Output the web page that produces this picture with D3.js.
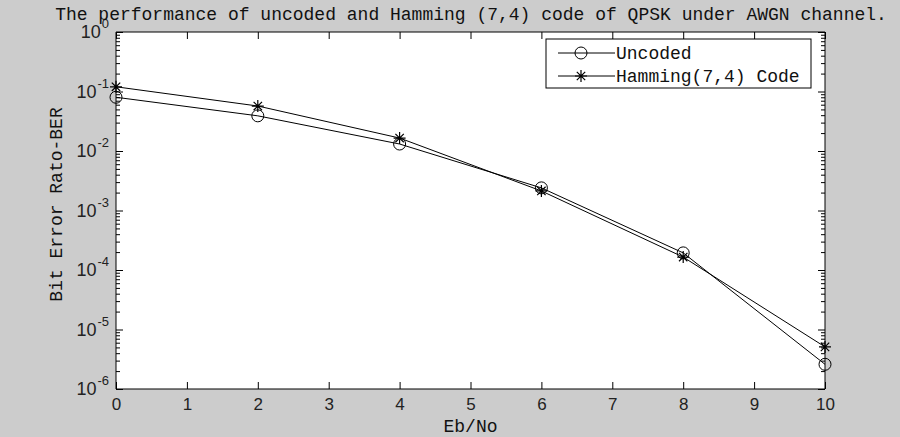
<!DOCTYPE html>
<html>
<head>
<meta charset="utf-8">
<script src="https://cdn.jsdelivr.net/npm/d3@7"></script>
<style>
  body { margin: 0; background: #cccccc; }
  svg { display: block; }
  .axis path, .axis line { stroke: #000; }
  .axis text { font-family: "Liberation Sans", Arial, sans-serif; font-size: 17px; fill: #222; }
  .mono { font-family: "Liberation Mono", "DejaVu Sans Mono", monospace; fill: #111; }
</style>
</head>
<body>
<script>
// data
var ebno = [0, 2, 4, 6, 8, 10];
var uncoded = [0.080, 0.039, 0.0131, 0.0024, 0.000194, 0.0000026];
var hamming = [0.120, 0.057, 0.0165, 0.00213, 0.000165, 0.0000051];
var xTicks = [0, 1, 2, 3, 4, 5, 6, 7, 8, 9, 10];
var yDecades = [0, -1, -2, -3, -4, -5, -6];
var seriesNames = ["Uncoded", "Hamming(7,4) Code"];

var width = 900, height = 437;
var margin = {top: 32, right: 75, bottom: 48, left: 116};
var w = width - margin.left - margin.right, h = height - margin.top - margin.bottom;

var svg = d3.select("body").append("svg")
    .attr("width", width)
    .attr("height", height);

svg.append("rect").attr("width", width).attr("height", height).attr("fill", "#cccccc");

var g = svg.append("g")
    .attr("transform", "translate(" + margin.left + "," + margin.top + ")");

var xScale = d3.scaleLinear().domain([0, 10]).range([0, w]);
var yScale = d3.scaleLog().domain([1e-6, 1]).range([h, 0]);

g.append("rect").attr("width", w).attr("height", h).attr("fill", "#fff");

// minor log ticks
var minor = [];
yDecades.slice(1).forEach(function(e) {
  for (var k = 2; k <= 9; k++) minor.push(k * Math.pow(10, e));
});
var majors = yDecades.map(function(e) { return Math.pow(10, e); });

// x axis bottom + top, ticks pointing in
g.append("g").attr("class", "axis")
    .attr("transform", "translate(0," + h + ")")
    .call(d3.axisBottom(xScale).tickValues(xTicks).tickSize(-7).tickPadding(9).tickFormat(d3.format("d")))
    .call(function(s) { s.select(".domain").attr("d", "M0,0H" + w); });
g.append("g").attr("class", "axis")
    .call(d3.axisTop(xScale).tickValues(xTicks).tickSize(-7).tickFormat(""))
    .call(function(s) { s.select(".domain").attr("d", "M0,0H" + w); });

// y axis left + right
function yAxis(axisFn, x) {
  var a = g.append("g").attr("class", "axis").attr("transform", "translate(" + x + ",0)");
  a.call(axisFn(yScale).tickValues(minor).tickSize(-4).tickFormat(""));
  a.select(".domain").attr("d", "M0,0V" + h);
  var b = g.append("g").attr("class", "axis").attr("transform", "translate(" + x + ",0)");
  b.call(axisFn(yScale).tickValues(majors).tickSize(-7).tickFormat(""));
  b.select(".domain").remove();
}
yAxis(d3.axisLeft, 0);
yAxis(d3.axisRight, w);

// y tick labels 10^n
var ylab = g.append("g").attr("class", "axis");
ylab.selectAll("text").data(yDecades).enter().append("text")
    .attr("x", -7)
    .attr("y", function(d) { return yScale(Math.pow(10, d)) + 6; })
    .attr("text-anchor", "end")
    .each(function(d) {
      var t = d3.select(this);
      t.append("tspan").attr("font-size", "18px").text("10");
      t.append("tspan").attr("dx", 1).attr("dy", -10).attr("font-size", "13px").text(d);
    });

// lines
var line = d3.line()
    .x(function(d, i) { return xScale(ebno[i]); })
    .y(function(d) { return yScale(d); });

[uncoded, hamming].forEach(function(s) {
  g.append("path").datum(s)
      .attr("d", line)
      .attr("fill", "none")
      .attr("stroke", "#000")
      .attr("stroke-width", 1);
});

function circleMark(sel, x, y) {
  sel.append("circle").attr("cx", x).attr("cy", y).attr("r", 6)
      .attr("fill", "none").attr("stroke", "#000").attr("stroke-width", 1);
}
function starMark(sel, x, y) {
  var r = 6;
  var p = "M" + (x - r) + "," + y + "H" + (x + r) +
          "M" + x + "," + (y - r) + "V" + (y + r) +
          "M" + (x - r * 0.7) + "," + (y - r * 0.7) + "L" + (x + r * 0.7) + "," + (y + r * 0.7) +
          "M" + (x - r * 0.7) + "," + (y + r * 0.7) + "L" + (x + r * 0.7) + "," + (y - r * 0.7);
  sel.append("path").attr("d", p).attr("stroke", "#000").attr("stroke-width", 1.2).attr("fill", "none");
}

uncoded.forEach(function(d, i) { circleMark(g, xScale(ebno[i]), yScale(d)); });
hamming.forEach(function(d, i) { starMark(g, xScale(ebno[i]), yScale(d)); });

// legend
var leg = svg.append("g").attr("transform", "translate(546,39)");
leg.append("rect").attr("width", 265).attr("height", 49)
    .attr("fill", "#fff").attr("stroke", "#000").attr("stroke-width", 1);
seriesNames.forEach(function(name, i) {
  var yy = 14 + i * 23;
  leg.append("line").attr("x1", 12).attr("x2", 69).attr("y1", yy).attr("y2", yy)
      .attr("stroke", "#000");
  if (i === 0) circleMark(leg, 35, yy); else starMark(leg, 35, yy);
  leg.append("text").attr("class", "mono")
      .attr("x", 70).attr("y", yy + 6)
      .attr("font-size", "18px")
      .text(name);
});

// title and axis labels
svg.append("text").attr("class", "mono")
    .attr("x", 471).attr("y", 20)
    .attr("text-anchor", "middle")
    .attr("font-size", "18px")
    .text("The performance of uncoded and Hamming (7,4) code of QPSK under AWGN channel.");

svg.append("text").attr("class", "mono")
    .attr("x", margin.left + w / 2).attr("y", 432)
    .attr("text-anchor", "middle")
    .attr("font-size", "18px")
    .text("Eb/No");

svg.append("text").attr("class", "mono")
    .attr("transform", "translate(62," + (margin.top + h / 2 - 6) + ") rotate(-90)")
    .attr("text-anchor", "middle")
    .attr("font-size", "18px")
    .text("Bit Error Rato-BER");
</script>
</body>
</html>
